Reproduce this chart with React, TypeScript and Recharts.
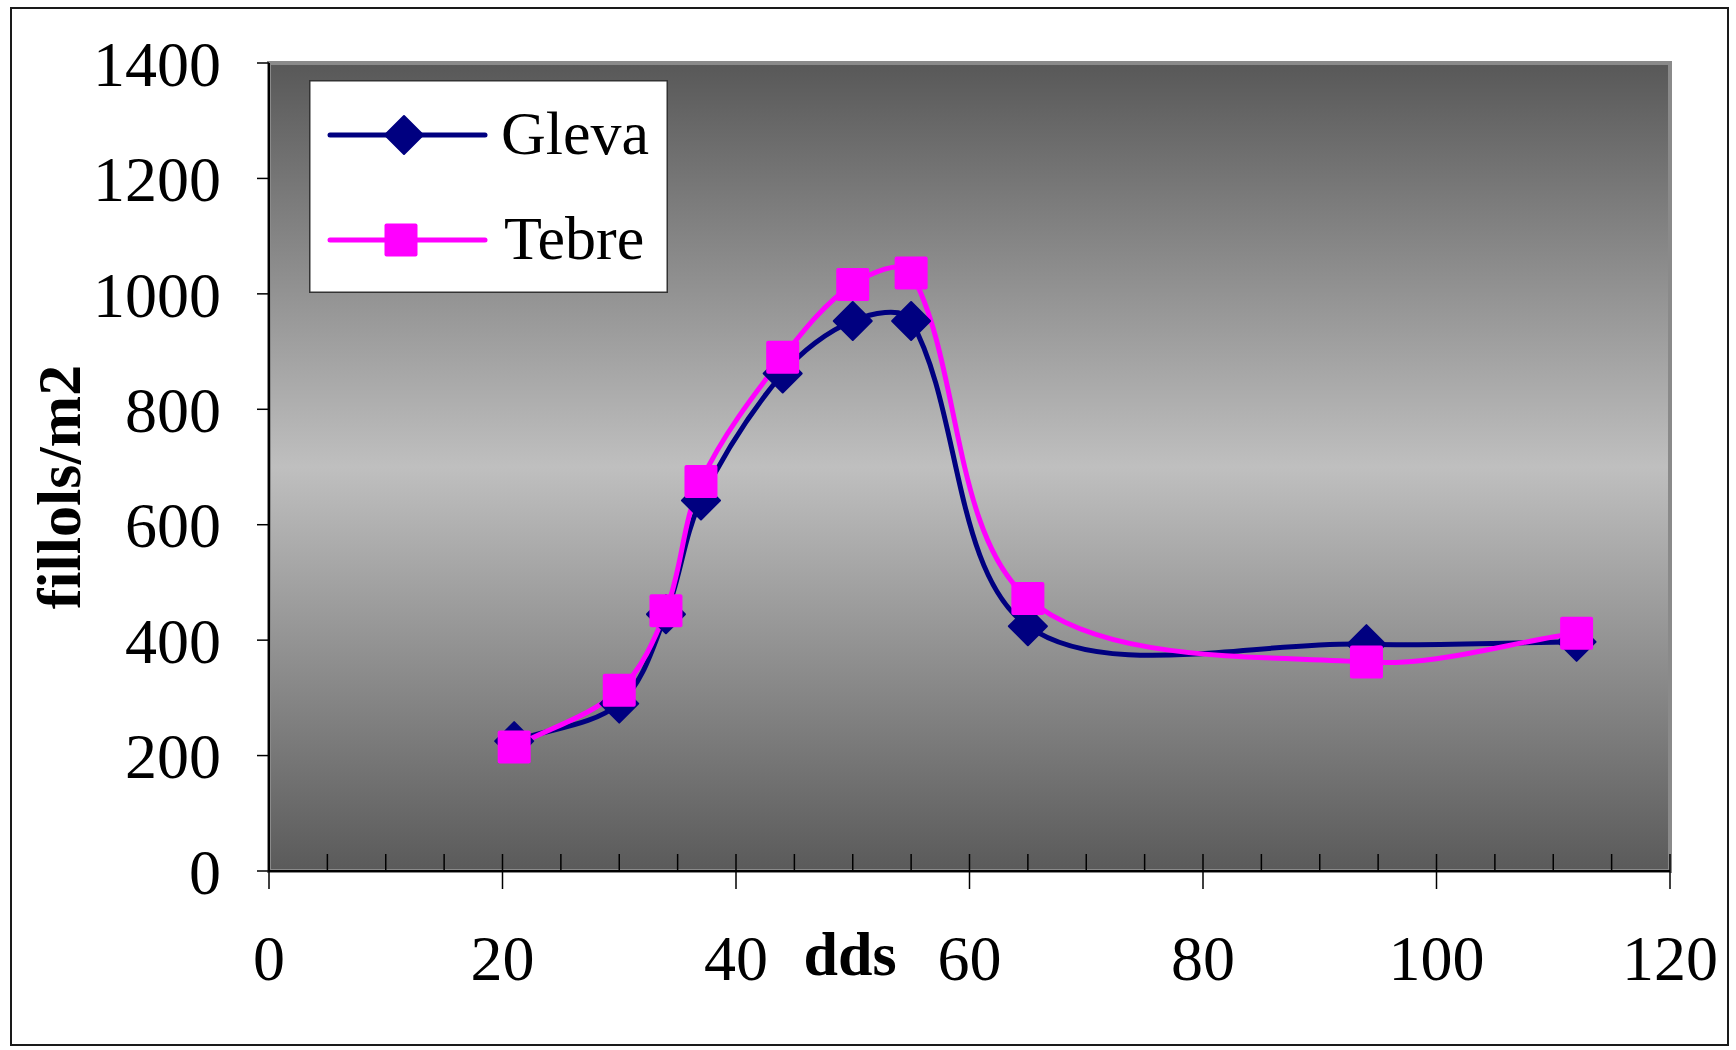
import React from "react";
import {
  LineChart,
  Line,
  XAxis,
  YAxis,
  ReferenceArea,
  Legend,
} from "recharts";

// days after sowing (dds)
const dds = [21, 30, 34, 37, 44, 50, 55, 65, 94, 112];
const gleva = [225, 290, 445, 642, 862, 953, 953, 424, 393, 397];
const tebre = [215, 313, 451, 675, 890, 1016, 1036, 472, 362, 412];

const yTicks = [0, 200, 400, 600, 800, 1000, 1200, 1400];
const xTicks = [
  0, 5, 10, 15, 20, 25, 30, 35, 40, 45, 50, 55, 60, 65, 70, 75, 80, 85, 90,
  95, 100, 105, 110, 115, 120,
];

const data = dds.map((d, i) => ({ dds: d, Gleva: gleva[i], Tebre: tebre[i] }));

const FONT = "'Liberation Serif', 'Times New Roman', serif";
const NAVY = "#000080";
const PINK = "#ff00ff";

// Excel-like smoothed line: tangent through neighbours, scaled by chord length
const smoothCurve = (context: any) => {
  let pts: [number, number][] = [];
  const dist = (a: [number, number], b: [number, number]) =>
    Math.hypot(b[0] - a[0], b[1] - a[1]);
  return {
    areaStart() {},
    areaEnd() {},
    lineStart() {
      pts = [];
    },
    lineEnd() {
      if (!pts.length) return;
      context.moveTo(pts[0][0], pts[0][1]);
      for (let i = 0; i < pts.length - 1; i++) {
        const p0 = pts[i - 1] || pts[i];
        const p1 = pts[i];
        const p2 = pts[i + 1];
        const p3 = pts[i + 2] || p2;
        const d01 = dist(p0, p1);
        const d12 = dist(p1, p2);
        const d23 = dist(p2, p3);
        const f1 = d01 + d12 > 0 ? d12 / (d01 + d12) / 3 : 0;
        const f2 = d12 + d23 > 0 ? d12 / (d12 + d23) / 3 : 0;
        context.bezierCurveTo(
          p1[0] + (p2[0] - p0[0]) * f1,
          p1[1] + (p2[1] - p0[1]) * f1,
          p2[0] - (p3[0] - p1[0]) * f2,
          p2[1] - (p3[1] - p1[1]) * f2,
          p2[0],
          p2[1],
        );
      }
    },
    point(x: number, y: number) {
      pts.push([x, y]);
    },
  };
};

function diamond(cx: number, cy: number, r: number, key?: string) {
  return (
    <polygon
      key={key}
      points={`${cx},${cy - r} ${cx + r},${cy} ${cx},${cy + r} ${cx - r},${cy}`}
      fill={NAVY}
      stroke={NAVY}
      strokeWidth={2}
      strokeLinejoin="round"
    />
  );
}

function square(cx: number, cy: number, s: number, key?: string) {
  return (
    <rect
      key={key}
      x={cx - s / 2}
      y={cy - s / 2}
      width={s}
      height={s}
      rx={2}
      fill={PINK}
    />
  );
}

const renderDiamond = (p: any) => {
  if (p.cx == null || p.cy == null) return <g key={`gd-${p.index}`} />;
  return diamond(p.cx, p.cy, 19, `gd-${p.index}`);
};

const renderSquare = (p: any) => {
  if (p.cx == null || p.cy == null) return <g key={`ts-${p.index}`} />;
  return square(p.cx, p.cy, 33, `ts-${p.index}`);
};

const XTick = (props: any) => {
  const { x, y, payload } = props;
  const v = payload.value;
  const major = v % 20 === 0;
  return (
    <g>
      <line
        x1={x}
        y1={y - 17}
        x2={x}
        y2={major ? y + 18 : y}
        stroke="#000"
        strokeWidth={1.5}
      />
      {major && (
        <text
          x={x}
          y={y + 109}
          textAnchor="middle"
          fontSize={64}
          fontFamily={FONT}
          fill="#000"
        >
          {v}
        </text>
      )}
    </g>
  );
};

const renderLegend = (props: any) => {
  const { payload } = props;
  return (
    <svg width={359} height={213} style={{ display: "block" }}>
      <rect
        x={0.75}
        y={0.75}
        width={357.5}
        height={211.5}
        fill="#fff"
        stroke="#333"
        strokeWidth={1.5}
      />
      {(payload || []).map((entry: any, i: number) => {
        const cy = i === 0 ? 55 : 160;
        return (
          <g key={entry.value}>
            <line
              x1={21}
              y1={cy}
              x2={176}
              y2={cy}
              stroke={entry.color}
              strokeWidth={5}
              strokeLinecap="round"
            />
            {entry.value === "Gleva" ? diamond(95, cy, 19) : square(92, cy, 33)}
            <text
              x={entry.value === "Gleva" ? 192 : 195}
              y={cy + 19}
              fontSize={62}
              fontFamily={FONT}
              fill="#000"
            >
              {entry.value}
            </text>
          </g>
        );
      })}
    </svg>
  );
};

export default function App() {
  return (
    <div
      style={{
        position: "absolute",
        left: 0,
        top: 0,
        width: 1736,
        height: 1050,
        background: "#fff",
      }}
    >
      <div
        style={{
          position: "absolute",
          left: 10,
          top: 7,
          width: 1719,
          height: 1039,
          border: "2px solid #1a1a1a",
          boxSizing: "border-box",
        }}
      />
      <div style={{ position: "absolute", left: 0, top: 0 }}>
        <LineChart
          width={1736}
          height={1050}
          data={data}
          margin={{ top: 63, right: 66, bottom: 59, left: 169 }}
        >
          <defs>
            <linearGradient id="plotBg" x1="0" y1="0" x2="0" y2="1">
              <stop offset="0%" stopColor="#585858" />
              <stop offset="50%" stopColor="#bfbfbf" />
              <stop offset="100%" stopColor="#5a5a5a" />
            </linearGradient>
          </defs>
          <ReferenceArea
            x1={0}
            x2={120}
            y1={0}
            y2={1400}
            fill="url(#plotBg)"
            fillOpacity={1}
            stroke="#8a8a8a"
            strokeWidth={4}
            ifOverflow="visible"
          />
          <XAxis
            dataKey="dds"
            type="number"
            domain={[0, 120]}
            ticks={xTicks}
            interval={0}
            height={120}
            tickSize={0}
            tickMargin={0}
            tickLine={false}
            tick={<XTick />}
            axisLine={{ stroke: "#000", strokeWidth: 2 }}
            label={{
              content: () => (
                <text
                  x={850}
                  y={975}
                  textAnchor="middle"
                  fontSize={62}
                  fontWeight="bold"
                  fontFamily={FONT}
                  fill="#000"
                >
                  dds
                </text>
              ),
            }}
          />
          <YAxis
            type="number"
            domain={[0, 1400]}
            ticks={yTicks}
            interval={0}
            width={100}
            tickSize={12}
            tickMargin={36}
            tickLine={{ stroke: "#000", strokeWidth: 1.5 }}
            axisLine={{ stroke: "#000", strokeWidth: 2 }}
            tick={{ fontSize: 64, fontFamily: FONT, fill: "#000" }}
            label={{
              content: () => (
                <text
                  x={80}
                  y={487}
                  transform="rotate(-90, 80, 487)"
                  textAnchor="middle"
                  fontSize={62}
                  fontWeight="bold"
                  fontFamily={FONT}
                  fill="#000"
                >
                  fillols/m2
                </text>
              ),
            }}
          />
          <Legend
            layout="horizontal"
            verticalAlign="middle"
            align="center"
            content={renderLegend}
            wrapperStyle={{ left: 309, top: 80, width: 359, height: 213 }}
          />
          <Line
            dataKey="Gleva"
            name="Gleva"
            type={smoothCurve as any}
            stroke={NAVY}
            strokeWidth={5}
            dot={renderDiamond}
            activeDot={false}
            isAnimationActive={false}
          />
          <Line
            dataKey="Tebre"
            name="Tebre"
            type={smoothCurve as any}
            stroke={PINK}
            strokeWidth={5}
            dot={renderSquare}
            activeDot={false}
            isAnimationActive={false}
          />
        </LineChart>
      </div>
    </div>
  );
}
